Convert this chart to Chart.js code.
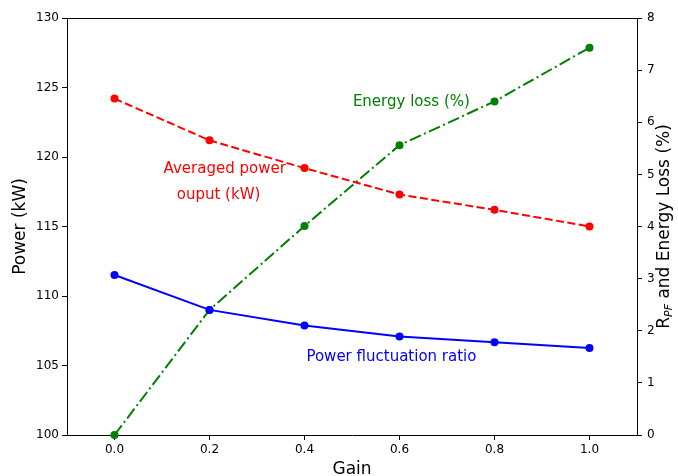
<!DOCTYPE html>
<html>
<head>
<meta charset="utf-8">
<script src="https://cdn.jsdelivr.net/npm/chart.js@4"></script>
<style>
  html, body { margin: 0; padding: 0; background: #fff; }
  #wrap { width: 678px; height: 476px; }
</style>
</head>
<body>
<div id="wrap"><canvas id="myChart" width="678" height="476"></canvas></div>
<script>
var gain = [0.0, 0.2, 0.4, 0.6, 0.8, 1.0];
var avgPower = [124.2, 121.2, 119.2, 117.3, 116.2, 115.0];
var fluctRatio = [3.07, 2.40, 2.10, 1.89, 1.78, 1.67];
var energyLoss = [0.0, 2.40, 4.01, 5.56, 6.40, 7.43];
var xTicks = [0.0, 0.2, 0.4, 0.6, 0.8, 1.0];
var leftTicks = [100, 105, 110, 115, 120, 125, 130];
var rightTicks = [0, 1, 2, 3, 4, 5, 6, 7, 8];

// text labels placed in data space
var notes = [
    { text: 'Averaged power', x: 0.232, y: 119.1, axis: 'y', color: 'red' },
    { text: 'ouput (kW)', x: 0.219, y: 117.25, axis: 'y', color: 'red' },
    { text: 'Energy loss (%)', x: 0.625, y: 6.39, axis: 'y1', color: 'green' },
    { text: 'Power fluctuation ratio', x: 0.583, y: 1.50, axis: 'y1', color: 'blue' }
];

var FONT = "'DejaVu Sans', sans-serif";

function points(ys) {
    return gain.map(function(g, i) { return { x: g, y: ys[i] }; });
}

function fixTicks(values) {
    return function(scale) {
        scale.ticks = values.map(function(v) { return { value: v }; });
    };
}

var extras = {
    id: 'extras',
    afterDraw: function(chart) {
        var ctx = chart.ctx;
        var a = chart.chartArea;
        ctx.save();
        // top spine
        ctx.strokeStyle = '#000';
        ctx.lineWidth = 1;
        ctx.beginPath();
        ctx.moveTo(a.left, a.top + 0.5);
        ctx.lineTo(a.right, a.top + 0.5);
        ctx.stroke();

        ctx.font = '15px ' + FONT;
        ctx.textAlign = 'center';
        ctx.textBaseline = 'middle';
        notes.forEach(function(n) {
            ctx.fillStyle = n.color;
            ctx.fillText(n.text, chart.scales.x.getPixelForValue(n.x), chart.scales[n.axis].getPixelForValue(n.y));
        });

        // right axis title with subscript
        var cx = 665, cy = (a.top + a.bottom) / 2;
        ctx.translate(cx, cy);
        ctx.rotate(-Math.PI / 2);
        ctx.fillStyle = '#000';
        ctx.textAlign = 'left';
        var big = '17px ' + FONT, small = 'italic 11px ' + FONT;
        ctx.font = big; var w1 = ctx.measureText('R').width;
        ctx.font = small; var w2 = ctx.measureText('PF').width;
        ctx.font = big; var w3 = ctx.measureText(' and Energy Loss (%)').width;
        var x0 = -(w1 + w2 + w3) / 2;
        ctx.font = big; ctx.fillText('R', x0, 0);
        ctx.font = small; ctx.fillText('PF', x0 + w1, 4);
        ctx.font = big; ctx.fillText(' and Energy Loss (%)', x0 + w1 + w2, 0);
        ctx.restore();
    }
};

var ctx = document.getElementById('myChart');
var myChart = new Chart(ctx, {
    type: 'line',
    data: {
        datasets: [
        {
            label: 'Averaged power ouput (kW)',
            data: points(avgPower),
            yAxisID: 'y',
            borderColor: 'red',
            backgroundColor: 'red',
            borderWidth: 2,
            borderDash: [8, 3.5],
            pointRadius: 4,
            pointBorderWidth: 0
        },
        {
            label: 'Power fluctuation ratio',
            data: points(fluctRatio),
            yAxisID: 'y1',
            borderColor: 'blue',
            backgroundColor: 'blue',
            borderWidth: 2,
            pointRadius: 4,
            pointBorderWidth: 0
        },
        {
            label: 'Energy loss (%)',
            data: points(energyLoss),
            yAxisID: 'y1',
            borderColor: 'green',
            backgroundColor: 'green',
            borderWidth: 2,
            borderDash: [12, 3.5, 2, 3.5],
            pointRadius: 4,
            pointBorderWidth: 0
        }]
    },
    options: {
        responsive: false,
        animation: false,
        clip: false,
        layout: { padding: { top: 18, left: 0, right: 0, bottom: 0 } },
        plugins: {
            legend: { display: false },
            tooltip: { enabled: false }
        },
        scales: {
            x: {
                type: 'linear',
                min: -0.1,
                max: 1.1,
                afterBuildTicks: fixTicks(xTicks),
                afterFit: function(s) { s.height = 41; },
                grid: { drawOnChartArea: false, tickLength: 5, tickColor: '#000' },
                border: { color: '#000', width: 1 },
                ticks: {
                    padding: 3,
                    color: '#000',
                    font: { family: FONT, size: 12 },
                    callback: function(v) { return Number(v).toFixed(1); }
                },
                title: {
                    display: true,
                    text: 'Gain',
                    color: '#000',
                    padding: { top: 0, bottom: -4 },
                    font: { family: FONT, size: 17 }
                }
            },
            y: {
                position: 'left',
                min: 100,
                max: 130,
                afterBuildTicks: fixTicks(leftTicks),
                afterFit: function(s) { s.width = 67; },
                grid: { drawOnChartArea: false, tickLength: 5, tickColor: '#000' },
                border: { color: '#000', width: 1 },
                ticks: {
                    padding: 3,
                    color: '#000',
                    font: { family: FONT, size: 12 }
                },
                title: {
                    display: true,
                    text: 'Power (kW)',
                    color: '#000',
                    padding: { top: 10, bottom: 0 },
                    font: { family: FONT, size: 17 }
                }
            },
            y1: {
                position: 'right',
                min: 0,
                max: 8,
                afterBuildTicks: fixTicks(rightTicks),
                afterFit: function(s) { s.width = 41; },
                grid: { drawOnChartArea: false, tickLength: 5, tickColor: '#000' },
                border: { color: '#000', width: 1 },
                ticks: {
                    padding: 5,
                    color: '#000',
                    font: { family: FONT, size: 12 }
                }
            }
        }
    },
    plugins: [extras]
});
</script>
</body>
</html>
